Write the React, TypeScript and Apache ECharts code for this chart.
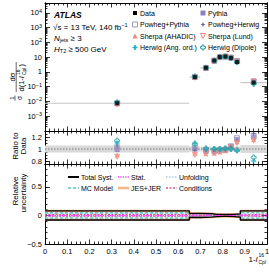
import React, { useEffect, useRef } from "react";
import * as echarts from "echarts";

// ---------------- data ----------------
const binEdges = [0, 0.65, 0.7, 0.75, 0.775, 0.8, 0.825, 0.85, 0.88, 1.0];
const dataValues = [0.0076, 0.45, 1.9, 5.9, 10.2, 11.0, 8.9, 4.7, 0.19];

const ratioPythia = [0.99, 1.0, 0.96, 0.96, 0.97, 0.98, 1.05, 1.16, 1.2];
const ratioPowhegPythia = [1.03, 1.02, 0.98, 0.97, 0.98, 0.99, 1.04, 1.18, 1.22];
const ratioPowhegHerwig = [1.05, 0.98, 0.97, 0.97, 0.98, 0.99, 1.03, 1.14, 1.26];
const ratioSherpaAhadic = [0.9, 0.93, 0.92, 0.93, 0.95, 0.97, 1.02, 1.12, 1.16];
const ratioSherpaLund = [0.87, 0.9, 0.93, 0.94, 0.96, 0.98, 1.03, 1.1, 1.14];
const ratioHerwigAng = [1.1, 1.1, 1.0, 1.0, 1.0, 1.0, 1.0, 0.97, 0.8];
const ratioHerwigDipole = [1.14, 1.08, 1.01, 1.0, 1.0, 1.01, 1.0, 0.98, 0.86];

const ratioBand = [0.06, 0.045, 0.04, 0.035, 0.035, 0.035, 0.04, 0.045, 0.065];

const uncTotalSyst = [0.08, 0.036, 0.03, 0.02, 0.018, 0.018, 0.02, 0.028, 0.08];
const uncJesJer = [0.075, 0.033, 0.027, 0.018, 0.016, 0.016, 0.018, 0.025, 0.075];
const uncMcModel = [0.045, 0.016, 0.012, 0.01, 0.008, 0.008, 0.01, 0.015, 0.05];
const uncUnfolding = [0.025, 0.01, 0.008, 0.006, 0.005, 0.005, 0.006, 0.01, 0.03];
const uncStat = [0.004, 0.006, 0.004, 0.003, 0.002, 0.002, 0.003, 0.004, 0.01];
const uncConditions = [0.015, 0.008, 0.006, 0.005, 0.004, 0.004, 0.005, 0.008, 0.02];

const xTickLabels = ["0", "0.1", "0.2", "0.3", "0.4", "0.5", "0.6", "0.7", "0.8", "0.9", "1"];
const topExponents = [-3, -2, -1, 0, 1, 2, 3, 4];
const ratioTickLabels = [0.8, 1, 1.2];
const uncTickLabels = [-0.5, 0, 0.5];

// ---------------- styles ----------------
const FONT = '"Liberation Sans", Arial, Helvetica, sans-serif';
const TOP_MIN = -4;
const TOP_MAX = 4.67;
const RATIO_MIN = 0.75;
const RATIO_MAX = 1.3;
const UNC_MIN = -0.5;
const UNC_MAX = 0.9;

const shapePoints: Record<string, number[][]> = {
  square: [[0, 0], [10, 0], [10, 10], [0, 10]],
  triangleUp: [[5, 0], [10, 10], [0, 10]],
  triangleDown: [[0, 0], [10, 0], [5, 10]],
  cross: [[3.3, 0], [6.7, 0], [6.7, 3.3], [10, 3.3], [10, 6.7], [6.7, 6.7], [6.7, 10], [3.3, 10], [3.3, 6.7], [0, 6.7], [0, 3.3], [3.3, 3.3]],
  star: [[5, 0], [6.5, 3.5], [10, 5], [6.5, 6.5], [5, 10], [3.5, 6.5], [0, 5], [3.5, 3.5]],
};
const symbolOf = (shape: string) =>
  shape === "square" ? "rect" : "path://M" + shapePoints[shape].map((p) => p.join(",")).join("L") + "Z";

const mcModels = [
  { name: "Pythia", ratios: ratioPythia, shape: "square", color: "#8e80c4", filled: true },
  { name: "Powheg+Pythia", ratios: ratioPowhegPythia, shape: "square", color: "#a09ab9", filled: false },
  { name: "Powheg+Herwig", ratios: ratioPowhegHerwig, shape: "star", color: "#6d5fa5", filled: true },
  { name: "Sherpa (AHADIC)", ratios: ratioSherpaAhadic, shape: "triangleUp", color: "#f2877a", filled: true },
  { name: "Sherpa (Lund)", ratios: ratioSherpaLund, shape: "triangleDown", color: "#f2877a", filled: false },
  { name: "Herwig (Ang. ord.)", ratios: ratioHerwigAng, shape: "cross", color: "#17b3c8", filled: true },
  { name: "Herwig (Dipole)", ratios: ratioHerwigDipole, shape: "cross", color: "#2a9fa3", filled: false },
];

const uncComponents = [
  { name: "JES+JER", values: uncJesJer, color: "#f7b68a", width: 2.6, dash: null as number[] | null },
  { name: "MC Model", values: uncMcModel, color: "#5cc6c8", width: 1.6, dash: [3, 2] },
  { name: "Unfolding", values: uncUnfolding, color: "#a6c9e6", width: 1.4, dash: [1.5, 1.5] },
  { name: "Conditions", values: uncConditions, color: "#c8607e", width: 1.1, dash: [2, 1.5] },
  { name: "Stat.", values: uncStat, color: "#ff33ff", width: 1.1, dash: [1.2, 1.2] },
  { name: "Total Syst.", values: uncTotalSyst, color: "#000000", width: 1.3, dash: null as number[] | null },
];

const binLo = binEdges.slice(0, -1);
const binHi = binEdges.slice(1);
const binCenters = binLo.map((lo, i) => (lo + binHi[i]) / 2);

const lineStyleAxis = { color: "#000", width: 1 };
const tickStyle = { color: "#000", width: 0.8 };

function xAxisSet(gi: number, showLabels: boolean) {
  const base = {
    type: "value",
    gridIndex: gi,
    min: 0,
    max: 1,
    interval: 0.1,
    axisLine: { show: true, onZero: false, lineStyle: lineStyleAxis },
    axisTick: { show: true, inside: true, length: 4.5, lineStyle: tickStyle },
    minorTick: { show: true, splitNumber: 5, length: 2.5, lineStyle: tickStyle },
    splitLine: { show: false },
    minorSplitLine: { show: false },
  };
  return [
    {
      ...base,
      position: "bottom",
      axisLabel: showLabels
        ? {
            show: true,
            fontSize: 7.5,
            fontFamily: FONT,
            color: "#000",
            margin: 3,
            hideOverlap: false,
            showMinLabel: true,
            showMaxLabel: true,
            formatter: (v: number) => xTickLabels[Math.round(v * 10)] ?? "",
          }
        : { show: false },
    },
    { ...base, position: "top", axisLabel: { show: false } },
  ];
}

function yAxisSet(
  gi: number,
  min: number,
  max: number,
  majors: number[],
  minors: number[],
  labelVals: number[],
  fmt: (v: number) => string,
  majorLen: number,
  minorLen: number
) {
  const common = {
    type: "value",
    gridIndex: gi,
    min,
    max,
    splitLine: { show: false },
    axisLine: { show: true, onZero: false, lineStyle: lineStyleAxis },
  };
  const tick = (vals: number[], len: number) => ({
    show: true,
    inside: true,
    length: len,
    customValues: vals,
    lineStyle: tickStyle,
  });
  return [
    {
      ...common,
      position: "left",
      axisTick: tick(majors, majorLen),
      axisLabel: {
        show: true,
        customValues: labelVals,
        formatter: fmt,
        fontSize: 7.5,
        fontFamily: FONT,
        color: "#000",
        margin: 3,
        lineHeight: 10,
        rich: { sup: { fontSize: 5.5, lineHeight: 4, verticalAlign: "top", fontFamily: FONT } },
      },
    },
    { ...common, position: "left", axisTick: tick(minors, minorLen), axisLabel: { show: false } },
    { ...common, position: "right", axisTick: tick(majors, majorLen), axisLabel: { show: false } },
    { ...common, position: "right", axisTick: tick(minors, minorLen), axisLabel: { show: false } },
  ];
}

function range(a: number, b: number, step: number) {
  const out: number[] = [];
  for (let v = a; v <= b + 1e-9; v += step) out.push(Math.round(v * 1000) / 1000);
  return out;
}

function markerGraphic(shape: string, color: string, filled: boolean, cx: number, cy: number, s: number) {
  const pts = shapePoints[shape].map(([px, py]) => [cx + ((px - 5) * s) / 10, cy + ((py - 5) * s) / 10]);
  return {
    type: "polygon",
    shape: { points: pts },
    style: filled ? { fill: color } : { fill: "none", stroke: color, lineWidth: 1 },
  };
}

function buildOption() {
  const topMajors = range(-4, 4, 1);
  const topMinors: number[] = [];
  for (let n = -4; n <= 4; n++) {
    for (let k = 2; k <= 9; k++) {
      const v = n + Math.log10(k);
      if (v < TOP_MAX) topMinors.push(v);
    }
  }
  const topFmt = (v: number) => {
    const n = Math.round(v);
    if (n === 0) return "1";
    if (n === 1) return "10";
    return "10{sup|" + (n < 0 ? "\u2212" + -n : String(n)) + "}";
  };
  const ratioFmt = (v: number) => String(Math.round(v * 10) / 10);
  const uncFmt = (v: number) => (v < 0 ? "\u2212" + -v : String(v));

  const xAxis = [...xAxisSet(0, false), ...xAxisSet(1, false), ...xAxisSet(2, true)];
  const yAxis = [
    ...yAxisSet(0, TOP_MIN, TOP_MAX, topMajors, topMinors, topExponents, topFmt, 5, 2.5),
    ...yAxisSet(1, RATIO_MIN, RATIO_MAX, ratioTickLabels, range(0.75, 1.3, 0.05), ratioTickLabels, ratioFmt, 5, 2.5),
    ...yAxisSet(2, UNC_MIN, UNC_MAX, uncTickLabels, range(-0.5, 0.9, 0.1), uncTickLabels, uncFmt, 5, 2.5),
  ];

  const series: any[] = [];

  // top panel: data x-error bars
  series.push({
    type: "custom",
    xAxisIndex: 0,
    yAxisIndex: 0,
    silent: true,
    z: 1,
    encode: { x: [0, 1], y: 2 },
    data: binLo.map((lo, i) => [lo, binHi[i], Math.log10(dataValues[i])]),
    renderItem: (params: any, api: any) => {
      const a = api.coord([api.value(0), api.value(2)]);
      const b = api.coord([api.value(1), api.value(2)]);
      return {
        type: "line",
        shape: { x1: a[0], y1: a[1], x2: b[0], y2: b[1] },
        style: { stroke: "#c6c6c6", lineWidth: 1.2 },
      };
    },
  });

  // top panel MC predictions
  mcModels.forEach((m, mi) => {
    series.push({
      name: m.name,
      type: "scatter",
      xAxisIndex: 0,
      yAxisIndex: 0,
      z: 2 + mi * 0.01,
      symbol: symbolOf(m.shape),
      symbolSize: 5,
      itemStyle: m.filled
        ? { color: m.color }
        : { color: "rgba(255,255,255,0)", borderColor: m.color, borderWidth: 1 },
      data: binCenters.map((c, i) => [c, Math.log10(dataValues[i] * m.ratios[i])]),
    });
  });

  // top panel data
  series.push({
    name: "Data",
    type: "scatter",
    xAxisIndex: 0,
    yAxisIndex: 0,
    z: 5,
    symbol: "rect",
    symbolSize: 4,
    itemStyle: { color: "#000" },
    data: binCenters.map((c, i) => [c, Math.log10(dataValues[i])]),
  });

  // ratio panel band
  series.push({
    type: "custom",
    xAxisIndex: 2,
    yAxisIndex: 4,
    silent: true,
    z: 1,
    encode: { x: [0, 1], y: 2 },
    data: binLo.map((lo, i) => [lo, binHi[i], 1, ratioBand[i]]),
    renderItem: (params: any, api: any) => {
      const p1 = api.coord([api.value(0), api.value(2) + api.value(3)]);
      const p2 = api.coord([api.value(1), api.value(2) - api.value(3)]);
      return {
        type: "rect",
        shape: { x: p1[0], y: p1[1], width: p2[0] - p1[0], height: p2[1] - p1[1] },
        style: { fill: "#d9d9d9" },
      };
    },
  });
  series.push({
    type: "line",
    xAxisIndex: 2,
    yAxisIndex: 4,
    silent: true,
    z: 2,
    symbol: "none",
    lineStyle: { color: "#7a7a7a", width: 1, type: [1.5, 1.5] },
    data: [
      [0, 1],
      [1, 1],
    ],
  });
  mcModels.forEach((m, mi) => {
    series.push({
      name: m.name,
      type: "scatter",
      xAxisIndex: 2,
      yAxisIndex: 4,
      z: 3 + mi * 0.01,
      symbol: symbolOf(m.shape),
      symbolSize: 5,
      itemStyle: m.filled
        ? { color: m.color }
        : { color: "rgba(255,255,255,0)", borderColor: m.color, borderWidth: 1 },
      data: binCenters.map((c, i) => [c, m.ratios[i]]),
    });
  });

  // uncertainty panel
  uncComponents.forEach((u, ui) => {
    [1, -1].forEach((sign) => {
      series.push({
        type: "line",
        xAxisIndex: 4,
        yAxisIndex: 8,
        silent: true,
        z: 2 + ui * 0.1,
        step: "end",
        symbol: "none",
        lineStyle: { color: u.color, width: u.width, type: u.dash ? u.dash : "solid" },
        data: binEdges.map((e, i) => [e, sign * u.values[Math.min(i, u.values.length - 1)]]),
      });
    });
  });

  // ---------- graphics: texts & legends ----------
  const txt = (x: number, y: number, text: string, extra: any = {}) => ({
    type: "text",
    x,
    y,
    silent: true,
    style: {
      text,
      fill: "#000",
      fontFamily: FONT,
      fontSize: 8,
      verticalAlign: "middle",
      align: "left",
      ...extra,
    },
  });

  const supRich = {
    sup: { fontSize: 5.5, lineHeight: 4, verticalAlign: "top", fontFamily: FONT, fill: "#000" },
    sub: { fontSize: 5.5, lineHeight: 5, verticalAlign: "bottom", fontFamily: FONT, fill: "#000" },
    it: { fontStyle: "italic", fontSize: 8, lineHeight: 10, fontFamily: FONT, fill: "#000" },
  };

  const elements: any[] = [];
  elements.push(txt(54, 15, "ATLAS", { fontWeight: "bold", fontStyle: "italic", fontSize: 8.5 }));
  elements.push(txt(53, 27, "\u221As = 13 TeV, 140 fb{sup|\u22121}", { lineHeight: 10, rich: supRich }));
  elements.push(txt(54, 38, "{it|N}{sub|jets} \u2265 3", { lineHeight: 10, rich: supRich }));
  elements.push(txt(54, 49, "{it|H}{sub|T2} \u2265 500 GeV", { lineHeight: 10, rich: supRich }));

  // marker legend
  const legendCols = [
    ["Data", "Powheg+Pythia", "Sherpa (AHADIC)", "Herwig (Ang. ord.)"],
    ["Pythia", "Powheg+Herwig", "Sherpa (Lund)", "Herwig (Dipole)"],
  ];
  const colX = [135, 203];
  const rowY = [13, 24.5, 36, 47.5];
  legendCols.forEach((col, ci) => {
    col.forEach((name, ri) => {
      const cx = colX[ci];
      const cy = rowY[ri];
      if (name === "Data") {
        elements.push({
          type: "rect",
          silent: true,
          shape: { x: cx - 2, y: cy - 2, width: 4, height: 4 },
          style: { fill: "#000" },
        });
      } else {
        const m = mcModels.find((mm) => mm.name === name)!;
        elements.push(markerGraphic(m.shape, m.color, m.filled, cx, cy, 5));
      }
      elements.push(txt(cx + 5, cy, name, { fontSize: 7 }));
    });
  });

  // uncertainty legend
  const uncLegend = [
    ["Total Syst.", "Stat.", "Unfolding"],
    ["MC Model", "JES+JER", "Conditions"],
  ];
  const uColX = [68, 118, 166];
  const uRowY = [177, 188];
  uncLegend.forEach((row, ri) => {
    row.forEach((name, ci) => {
      const u = uncComponents.find((c) => c.name === name)!;
      const x0 = uColX[ci];
      const y0 = uRowY[ri];
      elements.push({
        type: "line",
        silent: true,
        shape: { x1: x0, y1: y0, x2: x0 + 11, y2: y0 },
        style: {
          stroke: u.color,
          lineWidth: name === "Total Syst." ? 2 : Math.max(u.width, 1.5),
          lineDash: u.dash ? u.dash : null,
        },
      });
      elements.push(txt(x0 + 13, y0, name, { fontSize: 7 }));
    });
  });

  // y titles
  elements.push({
    type: "group",
    x: 17,
    y: 80,
    rotation: Math.PI / 2,
    silent: true,
    children: [
      txt(-18, -5.5, "1", { fontSize: 6, align: "center" }),
      { type: "line", shape: { x1: -20.5, y1: -2, x2: -15.5, y2: -2 }, style: { stroke: "#000", lineWidth: 0.6 } },
      txt(-18, 2, "\u03C3", { fontSize: 6.5, align: "center" }),
      txt(3, -5, "d\u03C3", { fontSize: 7.5, align: "center" }),
      { type: "line", shape: { x1: -12, y1: -0.8, x2: 18, y2: -0.8 }, style: { stroke: "#000", lineWidth: 0.6 } },
      txt(-11.5, 4.5, "d(1-{it|I}", {
        fontSize: 7.5,
        lineHeight: 10,
        rich: { it: { fontStyle: "italic", fontSize: 7.5, lineHeight: 10, fontFamily: FONT, fill: "#000" } },
      }),
      txt(5, 1.8, "16", { fontSize: 4.8 }),
      txt(5, 7.5, "Cpl", { fontSize: 4.8 }),
      txt(13.5, 4.5, ")", { fontSize: 7.5 }),
    ],
  });
  elements.push(txt(15, 146, "Ratio to", { align: "center" }));
  elements[elements.length - 1].rotation = Math.PI / 2;
  elements.push(txt(23.5, 146, "Data", { align: "center" }));
  elements[elements.length - 1].rotation = Math.PI / 2;
  elements.push(txt(15, 191, "Relative", { align: "center" }));
  elements[elements.length - 1].rotation = Math.PI / 2;
  elements.push(txt(23.5, 193, "uncertainty", { align: "center" }));
  elements[elements.length - 1].rotation = Math.PI / 2;

  // x title
  elements.push(
    txt(248.5, 259, "1-{it|I}", {
      fontSize: 8,
      lineHeight: 10,
      rich: { it: { fontStyle: "italic", fontSize: 8, lineHeight: 10, fontFamily: FONT, fill: "#000" } },
    })
  );
  elements.push(txt(258.5, 254.5, "16", { fontSize: 5 }));
  elements.push(txt(258.5, 262, "Cpl", { fontSize: 5 }));

  return {
    animation: false,
    textStyle: { fontFamily: FONT, color: "#000" },
    grid: [
      { left: 45, top: 3, width: 222, height: 128, outerBoundsMode: "none" },
      { left: 45, top: 131, width: 222, height: 33, outerBoundsMode: "none" },
      { left: 45, top: 164, width: 222, height: 80, outerBoundsMode: "none" },
    ],
    xAxis,
    yAxis,
    series,
    graphic: { elements },
  };
}

export default function App() {
  const ref = useRef<HTMLDivElement>(null);
  useEffect(() => {
    if (!ref.current) return;
    const chart = echarts.init(ref.current, undefined, { renderer: "svg" });
    chart.setOption(buildOption() as any);
    return () => chart.dispose();
  }, []);
  return (
    <div
      ref={ref}
      style={{ position: "fixed", left: 0, top: 0, width: 269, height: 274, background: "#fff" }}
    />
  );
}
